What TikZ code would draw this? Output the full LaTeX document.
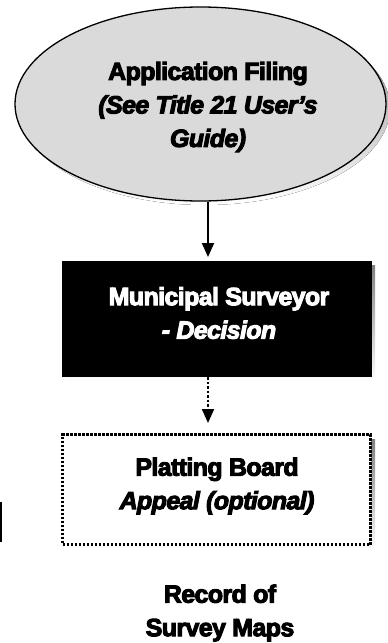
\documentclass[tikz,border=0pt]{standalone}
\usepackage{fontspec}
\setmainfont{Liberation Sans}[
  BoldFeatures={FakeBold=4,LetterSpace=-2.5},
  BoldItalicFeatures={FakeBold=4,LetterSpace=-2.5}]
\usetikzlibrary{arrows.meta,shapes.geometric}
\definecolor{ovalfill}{HTML}{DADADA}
\definecolor{shade}{HTML}{808080}
\tikzset{
  px/.style={x=1pt,y=-1pt},
  lbl/.style={font=\fontsize{25}{33.5}\selectfont\bfseries, align=center, inner sep=0pt},
  flow/.style={line width=2pt, -{Triangle[length=14pt,width=12pt]}},
}
\begin{document}
\begin{tikzpicture}[px]
\useasboundingbox (0,0) rectangle (388,643);
% start oval with drop shadow
\fill[shade] (204.5,108) ellipse [x radius=185.5, y radius=97];
\draw[line width=1.3pt, fill=ovalfill] (200.5,104) ellipse [x radius=185.5, y radius=97];
\node[ellipse, minimum width=371pt, minimum height=194pt, inner sep=0pt] (filing) at (200.5,104) {};
\node[lbl] (filingtxt) at (208,107) {Application Filing\\\itshape(See Title 21 User's\\\itshape Guide)};
% decision box
\fill[shade] (66,265) rectangle (375,381);
\node[draw, fill=black, minimum width=309pt, minimum height=115pt, inner sep=0pt] (survey) at (216.5,318.5) {};
\node[lbl, text=white] (surveytxt) at (219,313) {Municipal Surveyor\\\itshape - Decision};
% appeal box
\fill[shade] (67,439) rectangle (375,551);
\node[draw, fill=white, line width=2.5pt, dash pattern=on 2.5pt off 1.5pt, minimum width=308pt, minimum height=110pt, inner sep=0pt] (board) at (216.5,489.5) {};
\node[lbl] (boardtxt) at (217,486) {Platting Board\\\itshape Appeal (optional)};
% record text
\node[lbl] (record) at (220,613) {Record of\\Survey Maps};
% connectors
\draw[flow] (208,201.5) -- (208,257);
\draw[flow, dash pattern=on 2.5pt off 2pt] (208,377) -- (208,423);
\coordinate (edgetop) at (0.8,502);
\coordinate (edgebot) at (0.8,542);
\draw[line width=1.6pt] (edgetop) -- (edgebot);
\end{tikzpicture}
\end{document}
